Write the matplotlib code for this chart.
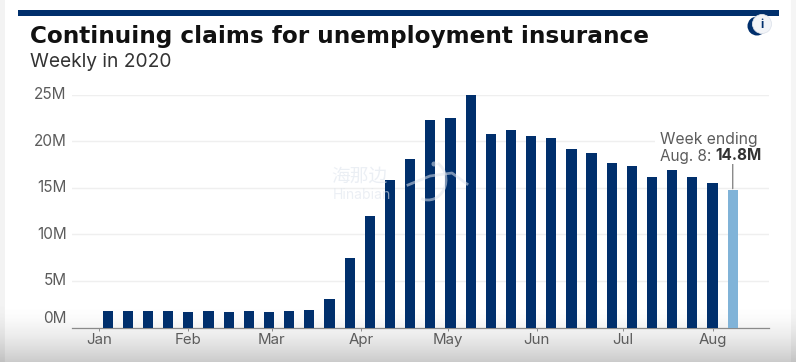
import numpy as np
import pandas as pd
import matplotlib
matplotlib.use('Agg')
from matplotlib import pyplot as plt
from matplotlib.patches import Rectangle, Circle, Arc
import matplotlib.dates as mdates

W, H = 796, 362

# Continuing claims in millions, one value per week ending on a Saturday
week_ending = pd.date_range('2020-01-04', '2020-08-08', freq='7D')
claims = [1.75, 1.75, 1.75, 1.75, 1.7, 1.75, 1.7, 1.75, 1.7, 1.75, 1.85, 3.1,
          7.45, 11.95, 15.8, 18.05, 22.3, 22.5, 24.9, 20.8, 21.2, 20.6, 20.3, 19.2,
          18.7, 17.7, 17.3, 16.1, 16.9, 16.1, 15.5, 14.8]
y_ticks = [0, 5, 10, 15, 20, 25]
y_labels = ['0M', '5M', '10M', '15M', '20M', '25M']
month_starts = ['2020-01-01', '2020-02-01', '2020-03-01', '2020-04-01',
                '2020-05-01', '2020-06-01', '2020-07-01', '2020-08-01']
month_labels = ['Jan', 'Feb', 'Mar', 'Apr', 'May', 'Jun', 'Jul', 'Aug']

NAVY = '#002f6c'
LIGHT = '#80b3d8'
GREY = '#5c5c5c'
FONT = 'Inter'


def px_axes(fig, x0, y0, x1, y1):
    # pixel box measured from the top left of the picture
    return fig.add_axes([x0 / W, 1 - y1 / H, (x1 - x0) / W, (y1 - y0) / H])


fig = plt.figure(figsize=(W / 100, H / 100), dpi=100)

# Background, a video still that darkens towards the bottom
bg = px_axes(fig, 0, 0, W, H)
shade = np.ones((H, W))
shade[305:, :] = (1.0 - 0.2 * np.linspace(0, 1, H - 305) ** 1.6)[:, None]
shade[:, :5] *= 0.95
shade[:, 791:] *= 0.96
bg.imshow(shade, cmap='gray', vmin=0, vmax=1, aspect='auto')
bg.axis('off')

# Header in pixel coordinates
over = px_axes(fig, 0, 0, W, H)
over.set_xlim(0, W)
over.set_ylim(H, 0)
over.axis('off')
over.patch.set_alpha(0)
over.add_patch(Rectangle((17.5, 10), 761, 6, color=NAVY, lw=0))
over.add_patch(Circle((757, 26), 9.5, color=NAVY, lw=0))
over.add_patch(Circle((762, 24), 9.5, fc='#f2f4f8', ec='#dfe4ec', lw=0.6))
over.text(762, 24.5, 'i', color=NAVY, fontsize=8.5, fontweight='bold',
          family=FONT, ha='center', va='center')
over.text(30, 37, 'Continuing claims for unemployment insurance', color='#111111',
          fontsize=16.7, fontweight='bold', family='DejaVu Sans', va='center', ha='left')
over.text(29.5, 62, 'Weekly in 2020', color='#333333', fontsize=13.8,
          family=FONT, va='center', ha='left')

# Main chart
ax = px_axes(fig, 72, 94.5, 769, 327.5)
ax.patch.set_alpha(0)
ax.set_xlim(pd.Timestamp('2020-01-01') - pd.Timedelta(days=9.4),
            pd.Timestamp('2020-01-01') + pd.Timedelta(days=232.6))
ax.set_ylim(0, 25)
for s in ['top', 'left', 'right']:
    ax.spines[s].set_visible(False)
ax.spines['bottom'].set_color('#8a8a8a')
ax.spines['bottom'].set_linewidth(0.9)

ax.grid(axis='y', color='#efefef', lw=1)
ax.set_axisbelow(True)
colors = [NAVY] * (len(claims) - 1) + [LIGHT]
ax.bar(week_ending, claims, width=3.55, color=colors, lw=0, zorder=3)

ax.set_xticks(mdates.date2num(pd.to_datetime(month_starts)))
ax.set_xticklabels(month_labels, family=FONT, fontsize=10.8, color=GREY)
ax.tick_params(axis='x', length=2, width=0.7, color='#8a8a8a', pad=2)

# y labels are typed by hand since 0M sits above the baseline
ax.set_yticks(y_ticks)
ax.tick_params(axis='y', length=0, labelleft=False)
for v, label in zip(y_ticks, y_labels):
    dy = 9 if v == 0 else 0
    ax.annotate(label, xy=(0, v), xycoords=('axes fraction', 'data'),
                xytext=(-5.5, dy), textcoords='offset pixels', ha='right', va='center',
                family=FONT, fontsize=11, color=GREY)

# Callout and watermark go on top of the chart
top = px_axes(fig, 0, 0, W, H)
top.set_xlim(0, W)
top.set_ylim(H, 0)
top.axis('off')
top.patch.set_alpha(0)

top.add_patch(Rectangle((655, 130), 116, 34, color='white', lw=0))
top.text(660, 139.5, 'Week ending', color=GREY, fontsize=11.3, family=FONT,
         va='center', ha='left')
t = top.text(660, 156, 'Aug. 8:', color=GREY, fontsize=11, family=FONT,
             va='center', ha='left')
top.annotate('14.8M', xy=(1, 0.5), xycoords=t, xytext=(4, 0), textcoords='offset pixels',
             color='#333333', fontsize=11, fontweight='bold', family=FONT,
             va='center', ha='left')
ax.annotate('', xy=(week_ending[-1], claims[-1] + 0.1), xytext=(week_ending[-1], 17.6),
            arrowprops=dict(arrowstyle='-', color='#8a8a8a', lw=1, shrinkA=0, shrinkB=0))

WM = '#dfe5ee'
top.text(359, 176, '海那边', color=WM, alpha=0.6, fontsize=13.5,
         family=['Noto Sans CJK SC', 'DejaVu Sans'], ha='center', va='center')
top.text(362, 195, 'Hinabian', color=WM, alpha=0.6, fontsize=10,
         family=FONT, ha='center', va='center')
top.add_patch(Arc((428, 180), 36, 40, theta1=300, theta2=110, color=WM, alpha=0.55, lw=2))
top.plot([408, 430, 452, 467], [185, 176, 173, 184], color=WM, alpha=0.55, lw=2)
top.add_patch(Circle((434, 164), 2.5, color=WM, alpha=0.55, lw=0))

fig.savefig('out.png', dpi=100)
